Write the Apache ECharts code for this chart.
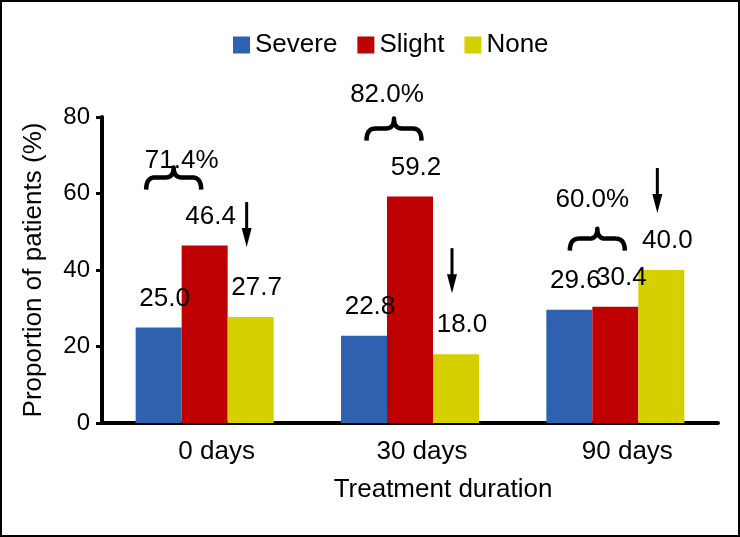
<!DOCTYPE html>
<html>
<head>
<meta charset="utf-8">
<script src="https://cdn.jsdelivr.net/npm/echarts@6/dist/echarts.min.js"></script>
<style>
html, body { margin: 0; padding: 0; background: #fff; }
#chart { width: 740px; height: 537px; }
</style>
</head>
<body>
<div id="chart"></div>
<script>
// data
const categories = ['0 days', '30 days', '90 days'];
const severe = [25.0, 22.8, 29.6];
const slight = [46.4, 59.2, 30.4];
const none = [27.7, 18.0, 40.0];
const pctLabels = ['71.4%', '82.0%', '60.0%']; // severe + slight

const FONT = '"Liberation Sans", Arial, sans-serif';
const BAR_W = 46;

// annotation tweaks (pixels), per group
const braceDx = [-31, -16, -18];
const pctDy = [-7, -24, -29];
const arrowDy = [-70, -61, -57];

const chart = echarts.init(document.getElementById('chart'));

function barSeries(name, data, color) {
  return {
    name: name,
    type: 'bar',
    data: data,
    barWidth: BAR_W,
    barGap: '0%',
    itemStyle: { color: color },
    label: {
      show: true,
      position: 'top',
      distance: 16,
      offset: [6, 0],
      color: '#000',
      fontSize: 26,
      fontFamily: FONT,
      formatter: p => p.value.toFixed(1)
    }
  };
}

chart.setOption({
  animation: false,
  textStyle: { fontFamily: FONT },
  legend: {
    left: 233,
    top: 32,
    padding: 0,
    itemWidth: 17,
    itemHeight: 17,
    itemGap: 20,
    icon: 'rect',
    textStyle: { fontSize: 26, color: '#000', fontFamily: FONT },
    data: ['Severe', 'Slight', 'None']
  },
  grid: { left: 102, right: 22, top: 117, bottom: 114 },
  xAxis: {
    type: 'category',
    data: categories,
    name: 'Treatment duration',
    nameLocation: 'middle',
    nameGap: 54,
    nameTextStyle: { fontSize: 26, color: '#000', fontFamily: FONT, padding: [0, 0, 0, 66] },
    axisLine: { lineStyle: { color: '#000', width: 4 } },
    axisTick: { length: 8, lineStyle: { color: '#000', width: 3 } },
    axisLabel: { fontSize: 26, color: '#000', fontFamily: FONT, margin: 16, padding: [0, 0, 0, 24] }
  },
  yAxis: {
    type: 'value',
    min: 0,
    max: 80,
    interval: 20,
    name: 'Proportion of patients (%)',
    nameLocation: 'middle',
    nameGap: 55,
    nameTextStyle: { fontSize: 26, color: '#000', fontFamily: FONT },
    axisLine: { show: true, lineStyle: { color: '#000', width: 4 } },
    axisTick: { show: true, length: 6, lineStyle: { color: '#000', width: 3 } },
    splitLine: { show: false },
    axisLabel: { fontSize: 24, color: '#000', fontFamily: FONT, margin: 12 }
  },
  series: [
    barSeries('Severe', severe, '#2E62B0'),
    barSeries('Slight', slight, '#BF0000'),
    barSeries('None', none, '#D6D000')
  ]
});

// brace + arrow annotations, placed from the axes
function quad(p0, c, p1, n) {
  const pts = [];
  for (let k = 0; k <= n; k++) {
    const t = k / n, u = 1 - t;
    pts.push([u * u * p0[0] + 2 * u * t * c[0] + t * t * p1[0],
              u * u * p0[1] + 2 * u * t * c[1] + t * t * p1[1]]);
  }
  return pts;
}

function bracePoints(cx, top, w, h) {
  const l = cx - w / 2, r = cx + w / 2, mid = top + h * 0.45, bot = top + h;
  return [].concat(
    quad([l, bot], [l, mid], [l + 9, mid], 8),
    quad([cx - 8, mid], [cx, mid], [cx, top], 8),
    quad([cx, top], [cx, mid], [cx + 8, mid], 8),
    quad([r - 9, mid], [r, mid], [r, bot], 8)
  );
}

const graphics = [{
  type: 'rect',
  shape: { x: 1, y: 1, width: 738, height: 535 },
  style: { stroke: '#000', lineWidth: 2, fill: 'none' },
  z: 100
}];

categories.forEach((c, i) => {
  const cx = chart.convertToPixel({ xAxisIndex: 0 }, c);
  const topPair = chart.convertToPixel({ yAxisIndex: 0 }, Math.max(severe[i], slight[i]));
  const braceTop = topPair - 78;
  const bx = cx + braceDx[i];
  graphics.push({
    type: 'polyline',
    shape: { points: bracePoints(bx, braceTop, 55, 22) },
    style: { stroke: '#000', lineWidth: 4.5, fill: null, lineJoin: 'round' },
    z: 100
  });
  graphics.push({
    type: 'text',
    x: cx - BAR_W / 2,
    y: braceTop + pctDy[i],
    style: { text: pctLabels[i], fontSize: 26, fontFamily: FONT, fill: '#000', align: 'center', verticalAlign: 'middle' },
    z: 100
  });
  // arrow over the None bar
  const ax = cx + BAR_W - 4;
  const tip = chart.convertToPixel({ yAxisIndex: 0 }, none[i]) + arrowDy[i];
  graphics.push({
    type: 'line',
    shape: { x1: ax, y1: tip - 45, x2: ax, y2: tip - 14 },
    style: { stroke: '#000', lineWidth: 3 },
    z: 100
  });
  graphics.push({
    type: 'polygon',
    shape: { points: [[ax - 5, tip - 19], [ax + 5, tip - 19], [ax, tip]] },
    style: { fill: '#000' },
    z: 100
  });
});

chart.setOption({ graphic: graphics });
</script>
</body>
</html>
